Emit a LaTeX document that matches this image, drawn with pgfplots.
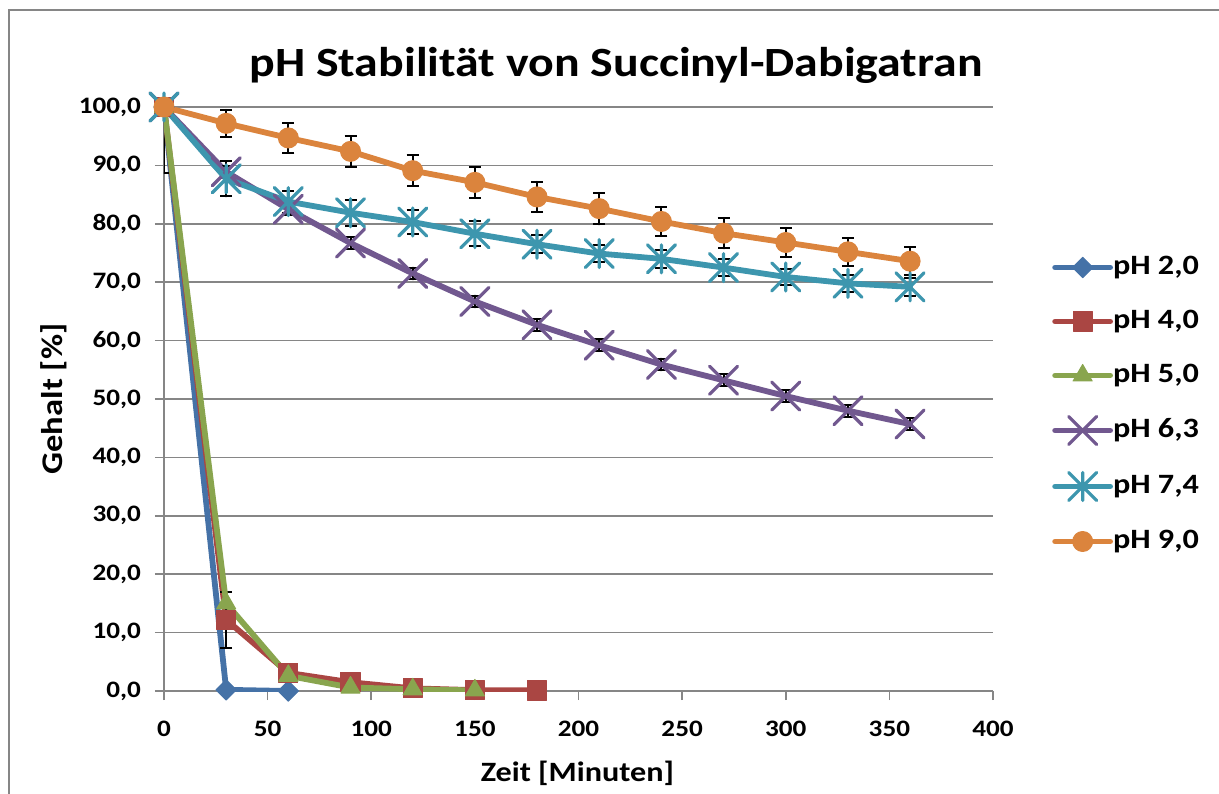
\documentclass[border=0pt]{standalone}
\usepackage{fontspec}
\setmainfont{Carlito}[FakeStretch=1.15]
\usepackage{pgfplots}
\pgfplotsset{compat=1.18}
\usepackage{pgfplotstable}

\definecolor{cblue}{HTML}{4572A7}
\definecolor{cred}{HTML}{AA4643}
\definecolor{cgreen}{HTML}{89A54E}
\definecolor{cpurple}{HTML}{71588F}
\definecolor{cteal}{HTML}{3D96AE}
\definecolor{corange}{HTML}{DB843D}
\definecolor{gridgray}{HTML}{868686}

\pgfdeclareplotmark{xcross}{%
  \pgfpathmoveto{\pgfqpoint{-\pgfplotmarksize}{-\pgfplotmarksize}}%
  \pgfpathlineto{\pgfqpoint{\pgfplotmarksize}{\pgfplotmarksize}}%
  \pgfpathmoveto{\pgfqpoint{-\pgfplotmarksize}{\pgfplotmarksize}}%
  \pgfpathlineto{\pgfqpoint{\pgfplotmarksize}{-\pgfplotmarksize}}%
  \pgfusepathqstroke}
\pgfdeclareplotmark{xstar}{%
  \pgfpathmoveto{\pgfqpoint{-\pgfplotmarksize}{-\pgfplotmarksize}}%
  \pgfpathlineto{\pgfqpoint{\pgfplotmarksize}{\pgfplotmarksize}}%
  \pgfpathmoveto{\pgfqpoint{-\pgfplotmarksize}{\pgfplotmarksize}}%
  \pgfpathlineto{\pgfqpoint{\pgfplotmarksize}{-\pgfplotmarksize}}%
  \pgfpathmoveto{\pgfqpoint{0pt}{-\pgfplotmarksize}}%
  \pgfpathlineto{\pgfqpoint{0pt}{\pgfplotmarksize}}%
  \pgfusepathqstroke}

\pgfplotstableread{
x y e
0 100 11.3
30 0.2 0
60 0.0 0
}\phA
\pgfplotstableread{
x y e
0 100 0
30 12.2 4.8
60 3.1 0
90 1.5 0
120 0.45 0
150 0.15 0
180 0.1 0
}\phB
\pgfplotstableread{
x y e
0 100 0
30 15.0 0
60 2.6 0
90 0.6 0
120 0.3 0
150 0.1 0
}\phC
\pgfplotstableread{
x y e
0 100 0
30 88.9 1.0
60 82.5 1.0
90 76.7 1.0
120 71.5 1.0
150 66.7 1.0
180 62.7 1.0
210 59.2 1.0
240 55.9 1.0
270 53.2 1.0
300 50.5 1.0
330 48.0 1.0
360 45.7 1.0
}\phD
\pgfplotstableread{
x y e
0 100 0
30 87.7 3.0
60 83.8 1.9
90 81.9 2.2
120 80.3 2.0
150 78.3 2.1
180 76.5 1.5
210 74.9 1.4
240 74.0 1.5
270 72.5 1.5
300 70.9 1.4
330 69.8 1.5
360 69.2 1.5
}\phE
\pgfplotstableread{
x y e
0 100 0
30 97.2 2.3
60 94.7 2.5
90 92.4 2.6
120 89.1 2.6
150 87.1 2.6
180 84.6 2.6
210 82.6 2.7
240 80.4 2.5
270 78.4 2.6
300 76.8 2.5
330 75.2 2.4
360 73.6 2.4
}\phF

\begin{document}
\begin{tikzpicture}
\useasboundingbox (-82pt,-51pt) rectangle (527.5pt,345.5pt);
\draw[color=gridgray, line width=1pt] (-77.5pt,-70pt) -- (-77.5pt,340.5pt) -- (560pt,340.5pt);
\begin{axis}[
  at={(0pt,0pt)}, anchor=south west,
  scale only axis, width=414.5pt, height=292pt,
  xmin=0, xmax=400, ymin=0, ymax=100,
  xtick={0,50,...,400}, ytick={0,10,...,100},
  axis lines*=left,
  axis line style={draw=gridgray, line width=0.75pt},
  tick align=outside, major tick length=4.5pt,
  tick style={draw=gridgray, line width=0.75pt},
  ymajorgrids, grid style={draw=gridgray, line width=0.75pt},
  /pgf/number format/assume math mode=true,
  ticklabel style={font=\bfseries\fontsize{11.8}{14}\selectfont},
  yticklabel style={xshift=-3.5pt, /pgf/number format/.cd, fixed, fixed zerofill, precision=1, use comma},
  xticklabel style={yshift=-7pt, /pgf/number format/.cd, fixed, precision=0},
  every axis title shift=0pt,
  title={pH Stabilität von Succinyl-Dabigatran},
  title style={at={(rel axis cs:0.5452,1.0519)}, anchor=base, font=\bfseries\fontsize{20.8}{24}\selectfont, inner sep=0pt},
  xlabel={Zeit [Minuten]},
  xlabel style={at={(rel axis cs:0.4987,-0.1553)}, anchor=base, font=\bfseries\fontsize{14}{17}\selectfont, inner sep=0pt},
  ylabel={Gehalt [\%]},
  ylabel style={at={(rel axis cs:-0.1222,0.5)}, anchor=base, font=\bfseries\fontsize{15}{18}\selectfont, inner sep=0pt},
  legend style={draw=none, fill=none, at={(rel axis cs:1.071,0.4906)}, anchor=west,
    font=\bfseries\fontsize{14}{16}\selectfont, row sep=14pt, inner sep=0pt,
    nodes={inner sep=0pt, text height=10pt, text depth=3pt}},
  legend cell align=left,
  legend image code/.code={\draw[mark repeat=2,mark phase=2,#1] plot coordinates {(0pt,0pt) (13.75pt,0pt) (27.5pt,0pt)};},
  every axis plot/.append style={line width=2.9pt, line cap=round, line join=round},
  error bars/error bar style={black, line width=1pt},
  error bars/error mark options={black, rotate=90, mark size=3pt, line width=1pt},
]
\addplot[cblue, mark=square*, mark size=3.6pt, mark options={rotate=45, solid, fill=cblue, line width=0.5pt},
  error bars/.cd, y dir=both, y explicit] table[x=x, y=y, y error=e] {\phA};
\addlegendentry{pH 2,0}
\addplot[cred, mark=square*, mark size=4.8pt, mark options={solid, fill=cred, line width=0.5pt},
  error bars/.cd, y dir=both, y explicit] table[x=x, y=y, y error=e] {\phB};
\addlegendentry{pH 4,0}
\addplot[cgreen, mark=triangle*, mark size=5.5pt, mark options={solid, fill=cgreen, line width=0.5pt},
  error bars/.cd, y dir=both, y explicit] table[x=x, y=y, y error=e] {\phC};
\addlegendentry{pH 5,0}
\addplot[cpurple, mark=xcross, mark size=7pt, mark options={solid, line width=1.6pt},
  error bars/.cd, y dir=both, y explicit] table[x=x, y=y, y error=e] {\phD};
\addlegendentry{pH 6,3}
\addplot[cteal, mark=xstar, mark size=7pt, mark options={solid, line width=1.6pt},
  error bars/.cd, y dir=both, y explicit] table[x=x, y=y, y error=e] {\phE};
\addlegendentry{pH 7,4}
\addplot[corange, mark=*, mark size=5pt, mark options={solid, fill=corange, line width=0.5pt},
  error bars/.cd, y dir=both, y explicit] table[x=x, y=y, y error=e] {\phF};
\addlegendentry{pH 9,0}
\end{axis}
\end{tikzpicture}
\end{document}
